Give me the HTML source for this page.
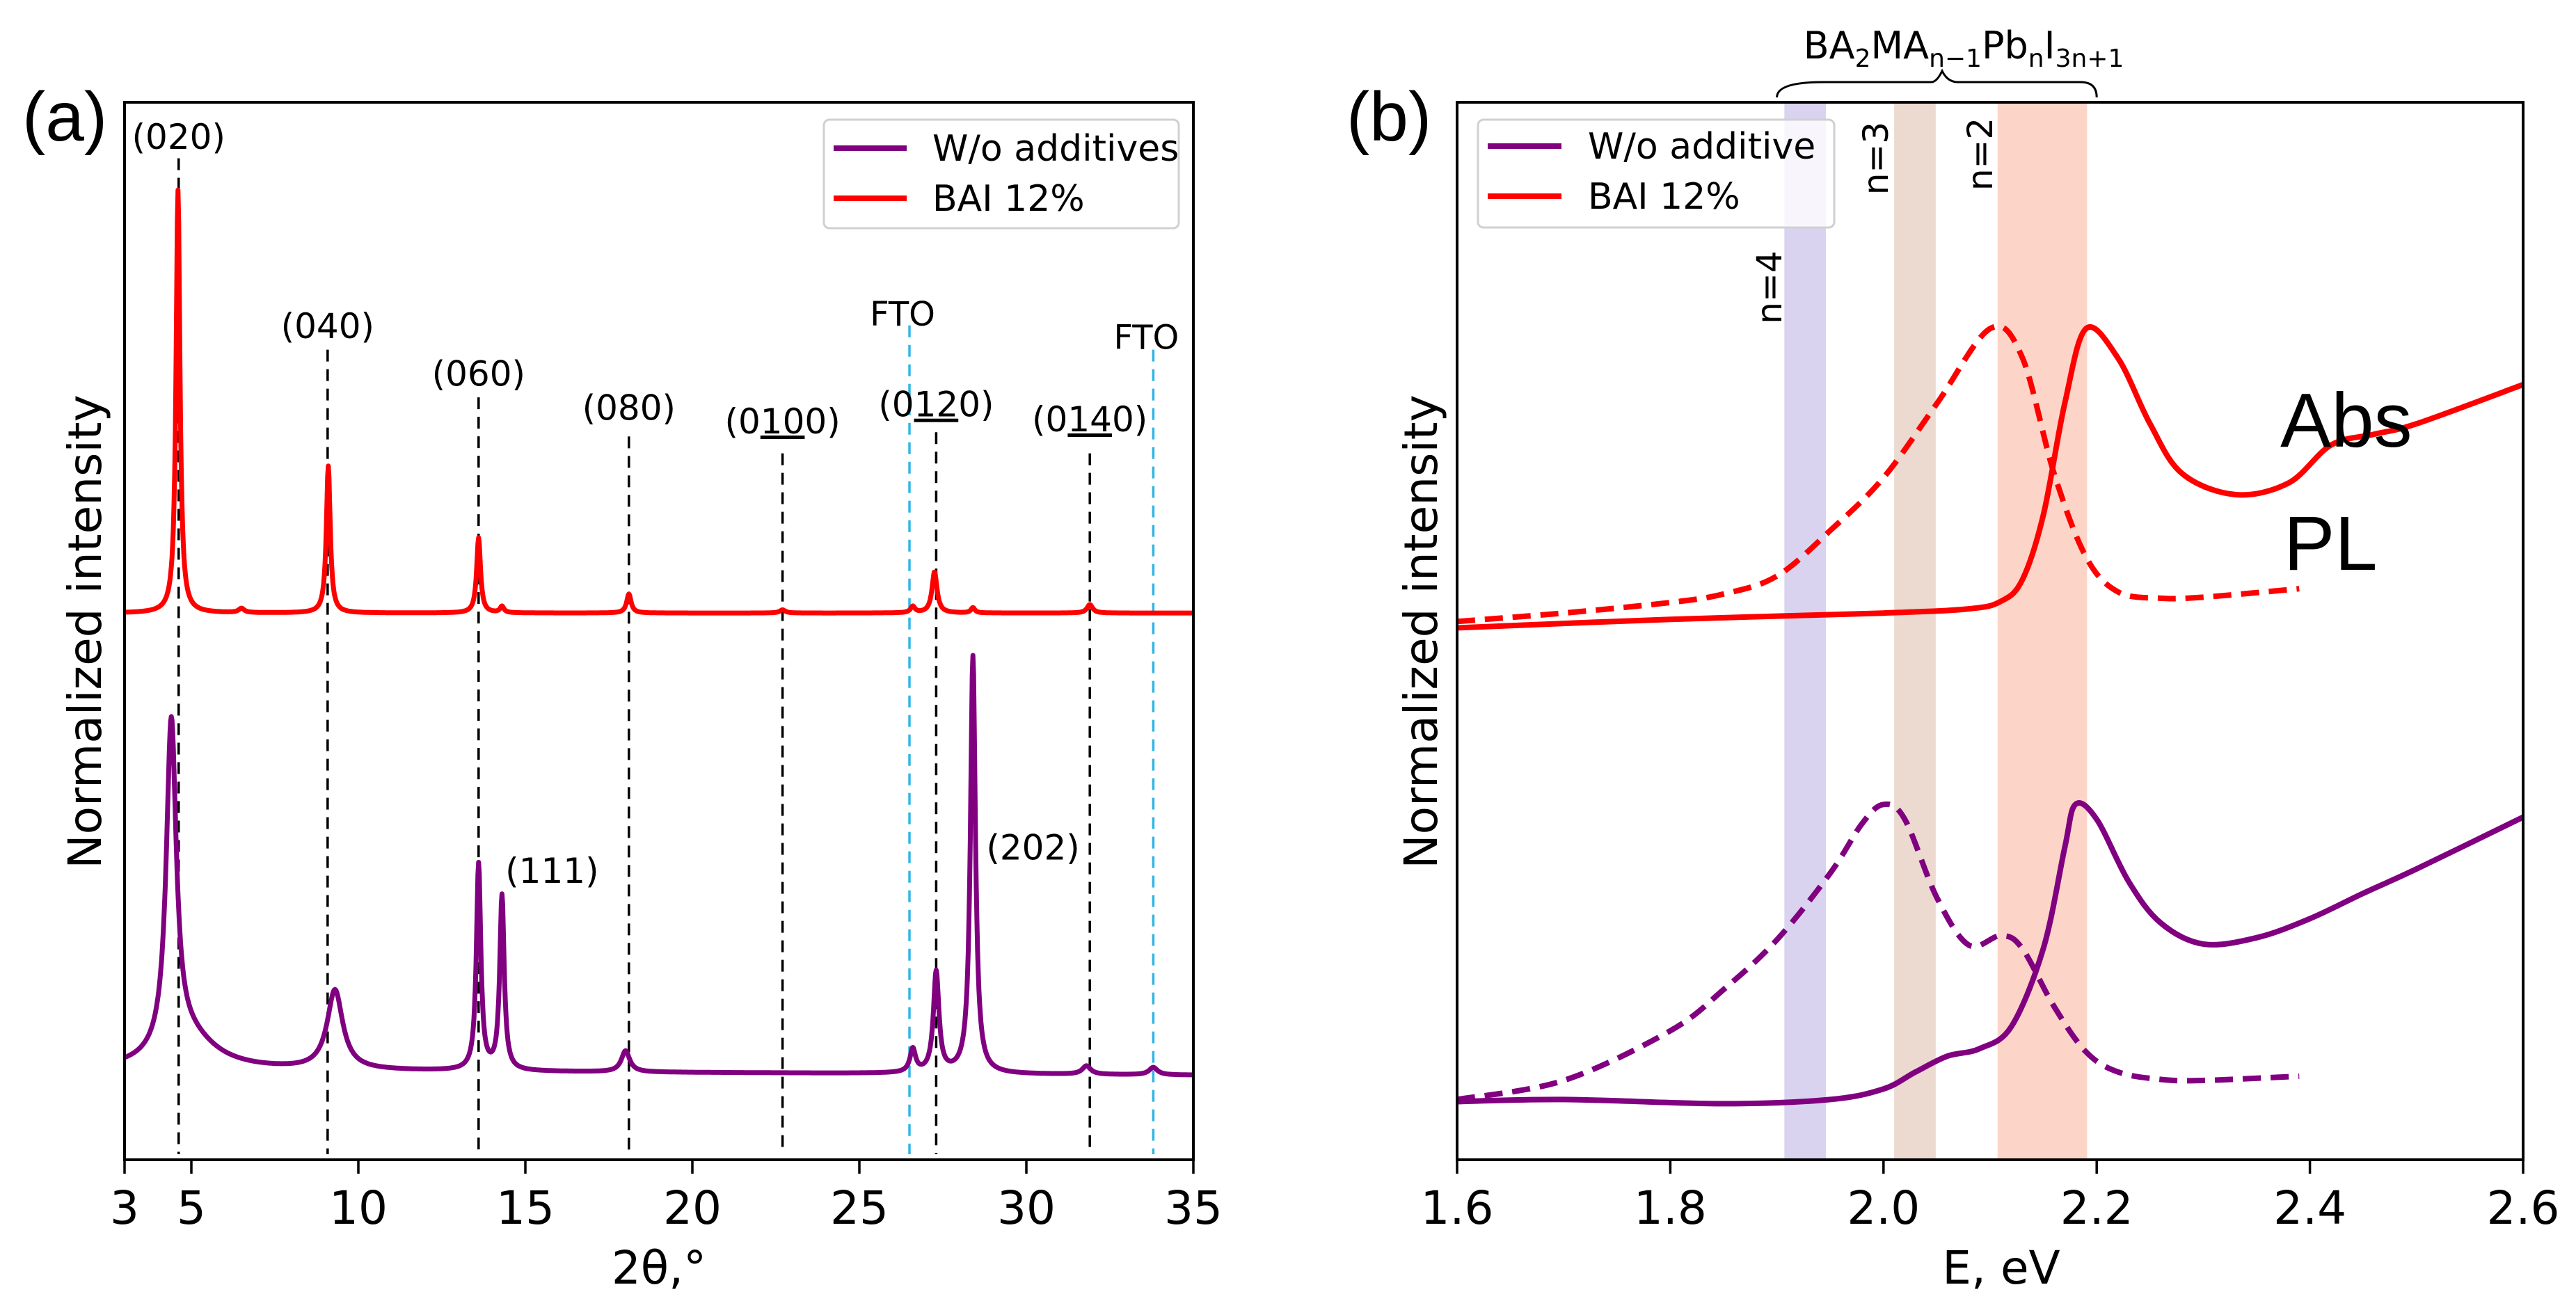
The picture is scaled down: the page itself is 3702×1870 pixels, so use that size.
<!DOCTYPE html>
<html><head><meta charset="utf-8"><style>
html,body{margin:0;padding:0;background:#fff}
svg{display:block}
text{font-family:"DejaVu Sans","Liberation Sans",sans-serif;fill:#000}
</style></head><body>
<svg id="fig" width="3702" height="1870" viewBox="0 0 3702 1870" xmlns="http://www.w3.org/2000/svg">
<g id="pa"></g>
<g id="pb"></g>
</svg>
<script>
// ---------- Panel A data (XRD) ----------
const aXTicks = [3,5,10,15,20,25,30,35];
const redPeakPos = [4.6,6.5,9.1,13.6,14.3,18.1,22.7,26.6,27.25,28.4,31.9];
const redPeakH   = [0.40,0.004,0.139,0.071,0.006,0.018,0.003,0.006,0.039,0.005,0.008];
const redPeakW   = [0.07,0.1,0.07,0.07,0.07,0.08,0.1,0.08,0.09,0.07,0.1];
const redBase = [0.517,0.517];
const purPeakPos = [4.4,4.9,9.3,13.6,14.3,18.0,26.6,27.3,28.4,31.8,33.8];
const purPeakH   = [0.31,0.03,0.075,0.195,0.165,0.02,0.022,0.095,0.395,0.008,0.007];
const purPeakW   = [0.18,1.0,0.28,0.08,0.08,0.15,0.1,0.1,0.09,0.15,0.15];
const purBase = [0.085,0.080];
const hklLabels = ["(020)","(040)","(060)","(080)","(0100)","(0120)","(0140)"];
const hklPos = [4.62,9.08,13.6,18.1,22.7,27.3,31.9];
const hklTop = [0.947,0.766,0.721,0.684,0.668,0.688,0.668];
const hklLabelY = [0.967,0.788,0.743,0.711,0.698,0.714,0.700];
const ftoPos = [26.5,33.8];
const ftoTop = [0.789,0.766];
const ftoLabelY = [0.800,0.778];
// ---------- Panel B data (optics) ----------
const bXTicks = [1.6,1.8,2.0,2.2,2.4,2.6];
const redAbsE = [1.6,1.8,2.0,2.08,2.11,2.13,2.15,2.17,2.19,2.22,2.25,2.28,2.33,2.38,2.42,2.46,2.5,2.6];
const redAbsI = [0.503,0.511,0.517,0.521,0.528,0.548,0.610,0.715,0.786,0.758,0.696,0.649,0.629,0.640,0.676,0.686,0.696,0.733];
const redPLE = [1.6,1.7,1.8,1.85,1.9,1.95,2.0,2.05,2.1,2.13,2.16,2.19,2.22,2.26,2.3,2.39];
const redPLI = [0.509,0.517,0.527,0.535,0.552,0.595,0.645,0.715,0.786,0.759,0.649,0.570,0.537,0.531,0.532,0.540];
const purAbsE = [1.6,1.7,1.85,1.95,2.0,2.03,2.06,2.09,2.12,2.15,2.17,2.18,2.2,2.23,2.26,2.3,2.35,2.4,2.45,2.5,2.6];
const purAbsI = [0.055,0.057,0.053,0.057,0.067,0.083,0.098,0.105,0.126,0.200,0.295,0.336,0.322,0.263,0.224,0.204,0.210,0.228,0.252,0.275,0.324];
const purPLE = [1.6,1.7,1.8,1.85,1.9,1.95,1.98,2.0,2.02,2.05,2.08,2.11,2.13,2.16,2.19,2.22,2.26,2.3,2.39];
const purPLI = [0.057,0.075,0.122,0.161,0.208,0.271,0.318,0.336,0.322,0.248,0.203,0.212,0.200,0.145,0.102,0.083,0.076,0.075,0.079];
const bandLo = [1.907,2.010,2.107];
const bandHi = [1.946,2.049,2.191];
const bandLabels = ["n=4","n=3","n=2"];
const bandLabelE = [1.893,1.993,2.091];
const bandLabelY = [0.825,0.947,0.951];

const NS="http://www.w3.org/2000/svg";
function mk(parent,tag,attrs,txt){const e=document.createElementNS(NS,tag);for(const k in attrs)e.setAttribute(k,attrs[k]);if(txt!==undefined)e.textContent=txt;parent.appendChild(e);return e;}
const T=147,B=1667;
const yS=f=>B-f*(B-T);
const aL=179,aR=1715;
const axS=v=>aL+(v-3)/(35-3)*(aR-aL);
const pa=document.getElementById('pa');
function lor(x,pos,h,w){let s=0;for(let i=0;i<pos.length;i++){const d=(x-pos[i])/w[i];s+=h[i]/(1+d*d);}return s;}
for(let i=0;i<hklPos.length;i++){
  const l=mk(pa,'line',{x1:axS(hklPos[i]),x2:axS(hklPos[i]),y1:yS(hklTop[i]),y2:B-8,stroke:'#000','stroke-width':3.5,'stroke-dasharray':'17,11'});
  
  
}
for(let i=0;i<ftoPos.length;i++){
  const l=mk(pa,'line',{x1:axS(ftoPos[i]),x2:axS(ftoPos[i]),y1:yS(ftoTop[i]),y2:B-8,stroke:'#33b5e5','stroke-width':3.5,'stroke-dasharray':'17,11'});
  
  
}
function xrdPath(pos,h,w,base){let d='';const N=1600;for(let k=0;k<=N;k++){const x=3+32*k/N;const b=base[0]+(base[1]-base[0])*(x-3)/32;const y=b+lor(x,pos,h,w);d+=(k?'L':'M')+axS(x).toFixed(1)+','+yS(y).toFixed(1);}return d;}
let p=mk(pa,'path',{d:xrdPath(purPeakPos,purPeakH,purPeakW,purBase),fill:'none',stroke:'#800080','stroke-width':7,'stroke-linejoin':'round'});


p=mk(pa,'path',{d:xrdPath(redPeakPos,redPeakH,redPeakW,redBase),fill:'none',stroke:'#ff0000','stroke-width':7,'stroke-linejoin':'round'});


for(let i=0;i<hklLabels.length;i++){
  const t=mk(pa,'text',{x:axS(hklPos[i]),y:yS(hklLabelY[i])+17,'font-size':50,'text-anchor':'middle'});
  const s=hklLabels[i];
  if(s.length>5){mk(t,'tspan',{},'(0');mk(t,'tspan',{'text-decoration':'underline'},s.slice(2,4));mk(t,'tspan',{},'0)');}
  else t.textContent=s;
  
  
}
for(let i=0;i<ftoPos.length;i++){
  const t=mk(pa,'text',{x:axS(ftoPos[i])-10,y:yS(ftoLabelY[i])+17,'font-size':48,'text-anchor':'middle'},'FTO');
  
  
}
let t=mk(pa,'text',{x:axS(15.8),y:yS(0.273)+17,'font-size':50,'text-anchor':'middle'},'(111)');

t=mk(pa,'text',{x:axS(30.2),y:yS(0.295)+17,'font-size':50,'text-anchor':'middle'},'(202)');

let r=mk(pa,'rect',{x:aL,y:T,width:aR-aL,height:B-T,fill:'none',stroke:'#000','stroke-width':4});

for(const v of aXTicks){
  const l=mk(pa,'line',{x1:axS(v),x2:axS(v),y1:B,y2:B+20,stroke:'#000','stroke-width':3.5});
  
  const tt=mk(pa,'text',{x:axS(v),y:B+92,'font-size':66,'text-anchor':'middle'},String(v));
  
}
t=mk(pa,'text',{x:947,y:1845,'font-size':66,'text-anchor':'middle'},'2θ,°');

t=mk(pa,'text',{x:0,y:0,'font-size':66,'text-anchor':'middle',transform:'translate(145,908) rotate(-90)'},'Normalized intensity');

t=mk(pa,'text',{x:32,y:202,'font-size':100,style:'font-family:"Liberation Sans",sans-serif'},'(a)');

let lg=mk(pa,'g',{});
mk(lg,'rect',{x:1184,y:172,width:510,height:156,rx:8,fill:'#fff','fill-opacity':0.85,stroke:'#d0d0d0','stroke-width':3});
let le=mk(lg,'line',{x1:1198,x2:1303,y1:213,y2:213,stroke:'#800080','stroke-width':8});
mk(lg,'text',{x:1340,y:231,'font-size':52},'W/o additives');
le=mk(lg,'line',{x1:1198,x2:1303,y1:285,y2:285,stroke:'#ff0000','stroke-width':8});
mk(lg,'text',{x:1340,y:303,'font-size':52},'BAI 12%');

// Panel B
const bL=2094,bR=3626;
const bxS=v=>bL+(v-1.6)/(2.6-1.6)*(bR-bL);
const pb=document.getElementById('pb');
const bandCol=['#d9d3f0','#ecd9d0','#fdd5c8'];
for(let i=0;i<bandLo.length;i++){
  const b=mk(pb,'rect',{x:bxS(bandLo[i]),y:T,width:bxS(bandHi[i])-bxS(bandLo[i]),height:B-T,fill:bandCol[i]});
  
  const tt=mk(pb,'text',{x:0,y:0,'font-size':50,'text-anchor':'middle',transform:`translate(${bxS(bandLabelE[i])+17},${yS(bandLabelY[i])}) rotate(-90)`},bandLabels[i]);
  
}
function smoothPath(E,I){const P=E.map((e,i)=>[bxS(e),yS(I[i])]);let d='M'+P[0][0]+','+P[0][1];for(let i=0;i<P.length-1;i++){const p0=P[i-1]||P[i],p1=P[i],p2=P[i+1],p3=P[i+2]||P[i+1];const c1=[p1[0]+(p2[0]-p0[0])/6,p1[1]+(p2[1]-p0[1])/6],c2=[p2[0]-(p3[0]-p1[0])/6,p2[1]-(p3[1]-p1[1])/6];d+=`C${c1[0].toFixed(1)},${c1[1].toFixed(1)} ${c2[0].toFixed(1)},${c2[1].toFixed(1)} ${p2[0].toFixed(1)},${p2[1].toFixed(1)}`;}return d;}
const series=[[purPLE,purPLI,'#800080',true,'pl-wo-additive-line'],[purAbsE,purAbsI,'#800080',false,'abs-wo-additive-line'],[redPLE,redPLI,'#ff0000',true,'pl-bai-12-line'],[redAbsE,redAbsI,'#ff0000',false,'abs-bai-12-line']];
for(const s of series){
  const a={d:smoothPath(s[0],s[1]),fill:'none',stroke:s[2],'stroke-width':8,'stroke-linejoin':'round'};
  if(s[3])a['stroke-dasharray']='26,14';
  const pp=mk(pb,'path',a);
  
  
}
r=mk(pb,'rect',{x:bL,y:T,width:bR-bL,height:B-T,fill:'none',stroke:'#000','stroke-width':4});

for(const v of bXTicks){
  const l=mk(pb,'line',{x1:bxS(v),x2:bxS(v),y1:B,y2:B+20,stroke:'#000','stroke-width':3.5});
  
  const tt=mk(pb,'text',{x:bxS(v),y:B+92,'font-size':66,'text-anchor':'middle'},v.toFixed(1));
  
}
t=mk(pb,'text',{x:2876,y:1845,'font-size':66,'text-anchor':'middle'},'E, eV');

t=mk(pb,'text',{x:0,y:0,'font-size':66,'text-anchor':'middle',transform:'translate(2065,908) rotate(-90)'},'Normalized intensity');

t=mk(pb,'text',{x:1935,y:202,'font-size':100,style:'font-family:"Liberation Sans",sans-serif'},'(b)');

t=mk(pb,'text',{x:3277,y:642,'font-size':110,style:'font-family:"Liberation Sans",sans-serif'},'Abs');

t=mk(pb,'text',{x:3282,y:819,'font-size':110,style:'font-family:"Liberation Sans",sans-serif'},'PL');

const br=mk(pb,'path',{d:`M${bxS(1.9)},140 Q${bxS(1.9)},118 2620,118 L${bxS(2.05)-8},118 Q${bxS(2.05)},118 ${bxS(2.055)},102 Q${bxS(2.06)},118 ${bxS(2.07)},118 L2990,118 Q${bxS(2.2)},118 ${bxS(2.2)},140`,fill:'none',stroke:'#000','stroke-width':3});

t=mk(pb,'text',{x:2822,y:84,'font-size':54,'text-anchor':'middle'});
mk(t,'tspan',{},'BA');mk(t,'tspan',{dy:12,'font-size':36},'2');mk(t,'tspan',{dy:-12},'MA');mk(t,'tspan',{dy:12,'font-size':36},'n−1');mk(t,'tspan',{dy:-12},'Pb');mk(t,'tspan',{dy:12,'font-size':36},'n');mk(t,'tspan',{dy:-12},'I');mk(t,'tspan',{dy:12,'font-size':36},'3n+1');

lg=mk(pb,'g',{});
mk(lg,'rect',{x:2124,y:172,width:512,height:155,rx:8,fill:'#fff','fill-opacity':0.8,stroke:'#d0d0d0','stroke-width':3});
le=mk(lg,'line',{x1:2138,x2:2244,y1:210,y2:210,stroke:'#800080','stroke-width':8});
mk(lg,'text',{x:2282,y:228,'font-size':52},'W/o additive');
le=mk(lg,'line',{x1:2138,x2:2244,y1:282,y2:282,stroke:'#ff0000','stroke-width':8});
mk(lg,'text',{x:2282,y:300,'font-size':52},'BAI 12%');
</script>
</body></html>
